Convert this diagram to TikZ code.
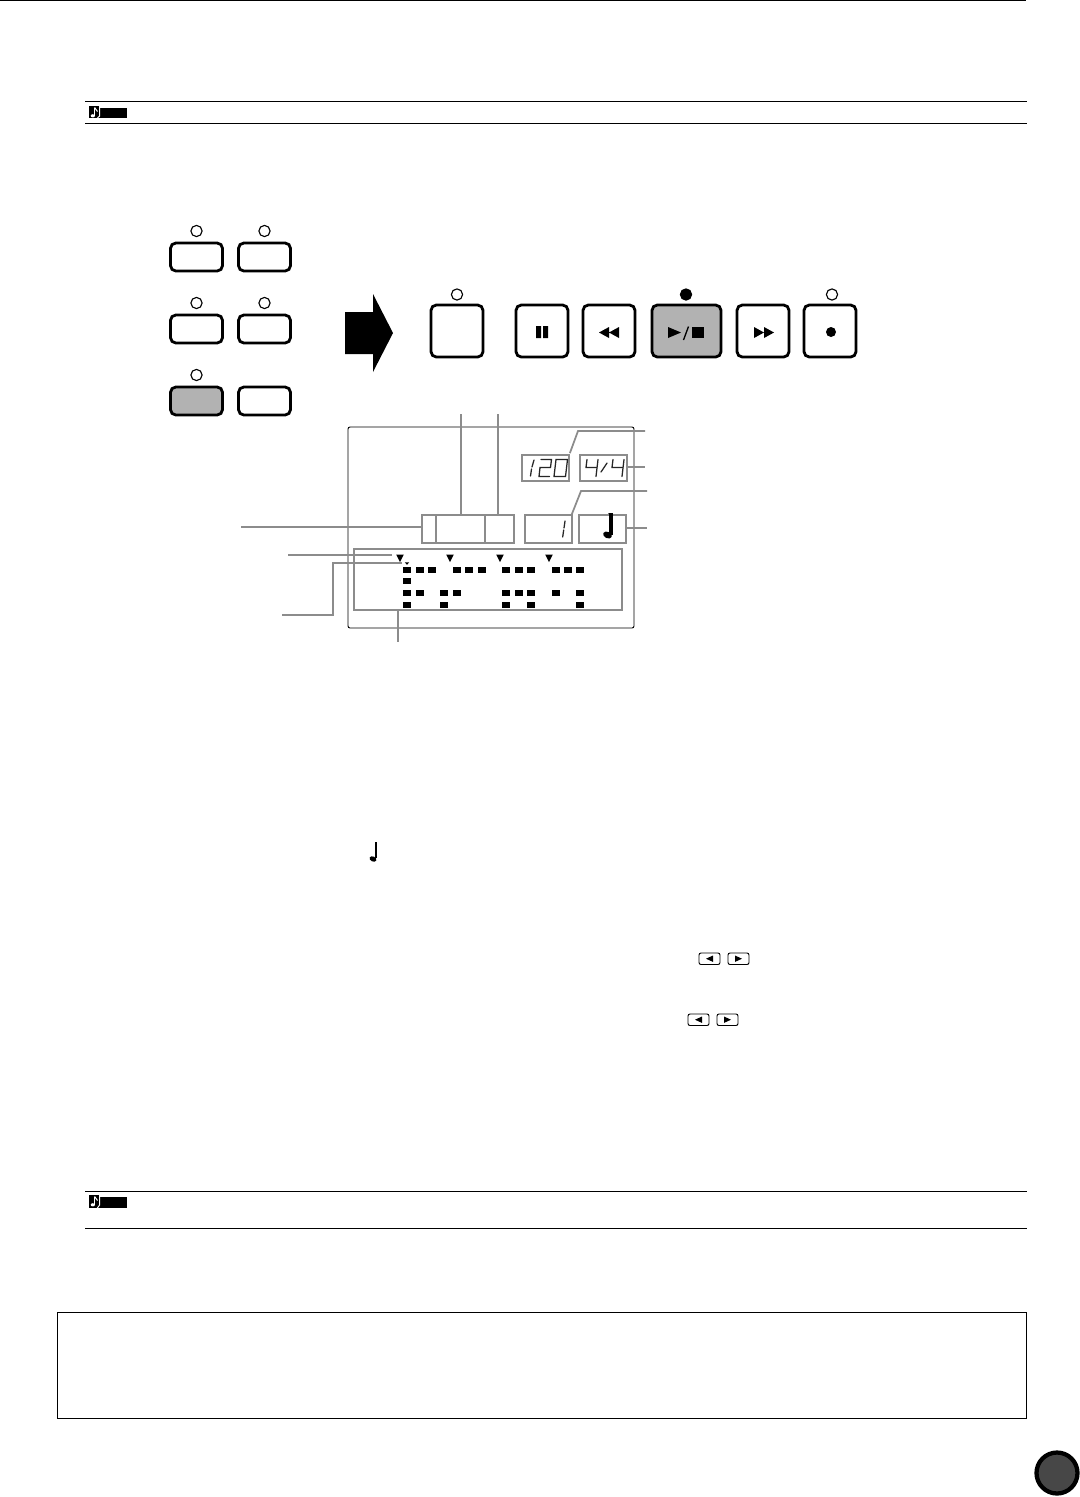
\documentclass[tikz,border=0pt]{standalone}
\newcommand{\ledcol}[2]{\fill[lcdbar] (#1-4,#2-2.8) rectangle (#1+4,#2+2.8);}
\tikzset{
 px/.style={x=0.75pt,y=-0.75pt},
 panelbtn/.style={draw=black,line width=2.1pt,rounded corners=4pt,fill=white},
 litbtn/.style={panelbtn,fill=btngray},
 led/.style={draw=black,line width=0.85pt,fill=white,circle,inner sep=0pt,minimum size=8.4pt},
 ledon/.style={led,fill=black},
 lcdbox/.style={draw=lcdgray,line width=1.3pt,fill=white},
 leader/.style={draw=lcdgray,line width=1.3pt},
 rule/.style={draw=black,line width=0.8pt},
 glyph/.style={fill=black},
 seg/.style={draw=black!85,line width=0.95pt},
 smallbtn/.style={draw=black,line width=0.7pt,rounded corners=1.5pt,fill=white},
}
\definecolor{btngray}{gray}{0.70}
\definecolor{lcdgray}{gray}{0.55}
\colorlet{lcdbar}{black}
\begin{document}
\begin{tikzpicture}[px]
\useasboundingbox (0,0) rectangle (1080,1497);
\fill[white] (0,0) rectangle (1080,1497);
% page rules
\draw[rule] (0,0.5) -- (1026,0.5);
\draw[rule] (85,101.5) -- (1027,101.5);
\draw[rule] (85,123.5) -- (1027,123.5);
\draw[rule] (85,1191.5) -- (1027,1191.5);
\draw[rule] (85,1228.5) -- (1027,1228.5);
% note tags
\foreach \yy/\hh in {106/12,1195/13}{
 \fill (89,\yy) rectangle (100,\yy+\hh);
 \fill (99,\yy+1.5) rectangle (127,\yy+\hh);
 \draw[white,line width=0.9pt] (94.6,\yy+1.5) -- (94.6,\yy+9.5);
 \draw[white,line width=0.8pt] (94.6,\yy+1.5) -- (97.5,\yy+5.5);
 \fill[white] (92.8,\yy+9.8) ellipse (2.1 and 1.6);
 \draw[white,line width=0.7pt] (99.6,\yy) -- (99.6,\yy+10) -- (97,\yy+\hh+0.5);
}
% left buttons
\foreach \xx/\yy/\sty in {170/243/panelbtn,238/243/panelbtn,170/315/panelbtn,238/315/panelbtn,170/387/litbtn,238/387/panelbtn}{
 \draw[\sty] (\xx+0.5,\yy) rectangle (\xx+52.5,\yy+28);
}
\foreach \xx/\yy in {196.5/231,264.5/231,196.5/303,264.5/303,196.5/375}{
 \node[led] (l\xx-\yy) at (\xx,\yy) {};
}
% big arrow
\fill (345,312) -- (373,312) -- (373,294) -- (393,333) -- (373,372) -- (373,354) -- (345,354) -- cycle;
% transport buttons
\draw[panelbtn] (431,305) rectangle (483,357);
\draw[panelbtn] (516,305) rectangle (568,357);
\draw[panelbtn] (583,305) rectangle (635,357);
\draw[litbtn]   (652,305) rectangle (721,357);
\draw[panelbtn] (737,305) rectangle (789,357);
\draw[panelbtn] (804,305) rectangle (856,357);
\node[led] (ledA) at (457,294.5) {};
\node[ledon] (ledB) at (686,294.5) {};
\node[led] (ledC) at (832,294.5) {};
% glyphs
\fill[glyph] (536,326) rectangle (541,338) (543,326) rectangle (548,338);
\fill[glyph] (599,332.5) -- (609,327) -- (609,338) -- cycle (609,332.5) -- (619,327) -- (619,338) -- cycle;
\fill[glyph] (668,327) -- (681,332.5) -- (668,338) -- cycle;
\draw[black,line width=1pt] (683.5,340) -- (688.5,326.5);
\fill[glyph] (692,327) rectangle (704,338);
\fill[glyph] (754,327) -- (764,332.5) -- (754,338) -- cycle (764,327) -- (774,332.5) -- (764,338) -- cycle;
\fill[glyph] (831,332) circle (5);
% display
\draw[black,line width=0.7pt,rounded corners=1.5pt] (348,427) rectangle (634,628);
\node[lcdbox,minimum width=35.25pt,minimum height=19.5pt,inner sep=0pt] (tempo) at (545.5,468) {};
\node[lcdbox,minimum width=35.25pt,minimum height=19.5pt,inner sep=0pt] (meter) at (603.5,468) {};
\node[lcdbox,minimum width=10.5pt,minimum height=21pt,inner sep=0pt] (partA) at (429,529) {};
\node[lcdbox,minimum width=36.75pt,minimum height=21pt,inner sep=0pt] (partB) at (460.5,529) {};
\node[lcdbox,minimum width=21.75pt,minimum height=21pt,inner sep=0pt] (partC) at (499.5,529) {};
\node[lcdbox,minimum width=35.25pt,minimum height=21pt,inner sep=0pt] (measure) at (548.5,529) {};
\node[lcdbox,minimum width=35.25pt,minimum height=21pt,inner sep=0pt] (notebox) at (602.5,529) {};
\node[lcdbox,minimum width=201pt,minimum height=45.75pt,inner sep=0pt] (grid) at (488,579.5) {};
% leaders
\coordinate (eB) at (461,414);
\coordinate (eC) at (498,414);
\coordinate (eT) at (645,431);
\coordinate (eTb) at (578,431);
\coordinate (eM) at (645,467);
\coordinate (eN) at (647,491);
\coordinate (eNb) at (581,491);
\coordinate (eV) at (647,528);
\coordinate (eA) at (241,527);
\coordinate (eP) at (288,555);
\coordinate (eQ) at (282,615);
\coordinate (eQb) at (333,615);
\coordinate (eQc) at (333,563);
\coordinate (eQd) at (402,563);
\coordinate (eP2) at (392,555);
\coordinate (eG) at (398,642);
\draw[leader] (eB) -- (partB.north -| eB);
\draw[leader] (eC) -- (partC.north -| eC);
\draw[leader] (tempo.north east) ++(0,-1) -- (eTb) -- (eT);
\draw[leader] (meter.east |- eM) -- (eM);
\draw[leader] (measure.north east) ++(-1,0) -- (eNb) -- (eN);
\draw[leader] (notebox.east |- eV) -- (eV);
\draw[leader] (eA) -- (partA.west |- eA);
\draw[leader] (eP) -- (eP2);
\draw[leader] (eQ) -- (eQb) -- (eQc) -- (eQd);
\draw[leader] (grid.south -| eG) -- (eG);
% triangles
\foreach \xx in {400,450,500,549}{
 \fill (\xx-3.8,554.5) -- (\xx+3.8,554.5) -- (\xx,562) -- cycle;
}
\fill (404.8,562.3) -- (409.2,562.3) -- (407,564.8) -- cycle;
% step bars
\foreach \xx in {407,419.7,432,456.7,469,481.7,506,518.7,531,555.7,568,580}{\ledcol{\xx}{570}}
\ledcol{407}{581}
\foreach \xx in {407,419.7,444,456.7,506,518.7,531,555.7,580}{\ledcol{\xx}{593}}
\foreach \xx in {407,444,506,531,580}{\ledcol{\xx}{605}}
% seven segment digits (drawn)
\begin{scope}[seg,line cap=round]
 % 1 (tempo)
 \draw (534,460) -- (532,467) (531.5,469) -- (530.5,476);
 % 2
 \draw (541,459.5) -- (551.5,459.5) -- (550.5,467.5) -- (540,467.5) -- (539,476.5) -- (549.5,476.5);
 % 0
 \draw (556,459.5) -- (567.5,459.5) -- (565.5,476.5) -- (554,476.5) -- cycle;
 % 4
 \draw (587,459.5) -- (586,467.5) -- (597,467.5) (598,459.5) -- (596,476.5);
 % slash
 \draw (607,463) -- (601,472);
 % 4
 \draw (613,459.5) -- (612,467.5) -- (623,467.5) (624,459.5) -- (622,476.5);
 % 1 (measure)
 \draw (565,521) -- (564,528) (563.7,530) -- (562.7,537);
\end{scope}
% note in box
\fill[rotate around={-25:(607.5,535)}] (607.5,535) ellipse (4.6 and 3.2);
\draw[black,line width=2.4pt] (611,535) -- (611,513);
\fill (611,513) -- (608,513.5) -- (611,515.5) -- cycle;
% small note
\fill[rotate around={-25:(373,859)}] (373,859) ellipse (3.6 and 2.5);
\draw[black,line width=1pt] (376,858) -- (376,842);
% small cursor buttons
\foreach \xx/\yy/\dirn in {699/953/-1,728/953/1,688/1014/-1,717/1014/1}{
 \draw[smallbtn] (\xx,\yy) rectangle (\xx+21,\yy+11.5);
 \fill (\xx+10.5+\dirn*3.5,\yy+5.7) -- (\xx+10.5-\dirn*3.5,\yy+2.5) -- (\xx+10.5-\dirn*3.5,\yy+8.9) -- cycle;
}
% bottom frame
\draw[black,line width=0.7pt] (57,1312) rectangle (1026,1418);
% page badge
\draw[black,line width=3.2pt,fill=black!72] (1057,1473) circle (20.5);
\end{tikzpicture}
\end{document}
